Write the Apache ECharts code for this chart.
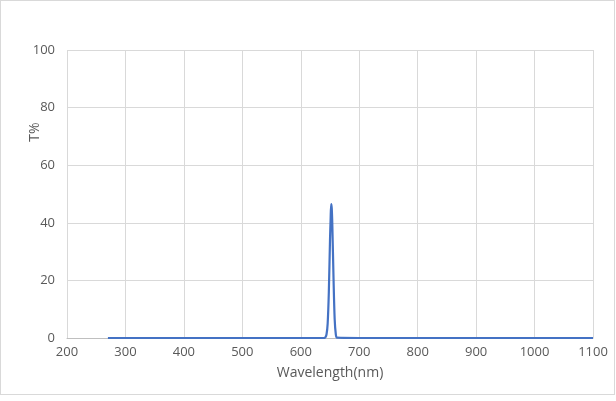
<!DOCTYPE html>
<html><head><meta charset="utf-8">
<script src="https://cdn.jsdelivr.net/npm/echarts@6/dist/echarts.min.js"></script>
<style>html,body{margin:0;padding:0;background:#fff}#c{width:616px;height:401px;position:relative}
#frame{position:absolute;left:0;top:0;width:613px;height:393px;border:1px solid #d9d9d9;pointer-events:none}</style>
</head><body><div id="c"></div><div id="frame"></div>
<script>
const wavelengths = [270, 600, 640, 642, 644, 646, 648, 650, 651, 652, 653, 654, 656, 658, 660, 662, 700, 1100];
const transmission = [0, 0, 0, 0.2, 1.2, 5, 16, 34, 41, 46.5, 45, 39, 21, 6.5, 1.2, 0.1, 0, 0];
const xTicks = [200, 300, 400, 500, 600, 700, 800, 900, 1000, 1100];
const yTicks = [0, 20, 40, 60, 80, 100];
const xName = 'Wavelength(nm)';
const yName = 'T%';

const chart = echarts.init(document.getElementById('c'), null, {renderer: 'canvas'});
const font = 'Open Sans, sans-serif';
chart.setOption({
  animation: false,
  backgroundColor: '#fff',
  grid: {left: 67, right: 23, top: 50, bottom: 63},
  xAxis: {
    type: 'value', min: xTicks[0], max: xTicks[xTicks.length-1], interval: 100,
    name: xName, nameLocation: 'middle', nameGap: 28, nameMoveOverlap: false,
    nameTextStyle: {color: '#595959', fontSize: 14, fontFamily: font},
    axisLine: {show: true, lineStyle: {color: '#bfbfbf', width: 1}},
    axisTick: {show: false},
    axisLabel: {color: '#595959', fontSize: 13, fontFamily: font, margin: 8, formatter: v => String(v)},
    splitLine: {show: true, lineStyle: {color: '#d9d9d9', width: 1}}
  },
  yAxis: {
    type: 'value', min: yTicks[0], max: yTicks[yTicks.length-1], interval: 20,
    name: yName, nameLocation: 'middle', nameGap: 25, nameRotate: 90, nameMoveOverlap: false,
    nameTextStyle: {color: '#595959', fontSize: 14, fontFamily: font, padding: [0, 0, 0, 124]},
    axisLine: {show: false},
    axisTick: {show: false},
    axisLabel: {color: '#595959', fontSize: 13, fontFamily: font, margin: 12, formatter: v => String(v)},
    splitLine: {show: true, lineStyle: {color: '#d9d9d9', width: 1}}
  },
  series: [{
    type: 'line', smooth: 0.3, showSymbol: false,
    data: wavelengths.map((w, i) => [w, transmission[i]]),
    lineStyle: {color: '#4472c4', width: 2.2},
    itemStyle: {color: '#4472c4'}
  }]
});
</script></body></html>
